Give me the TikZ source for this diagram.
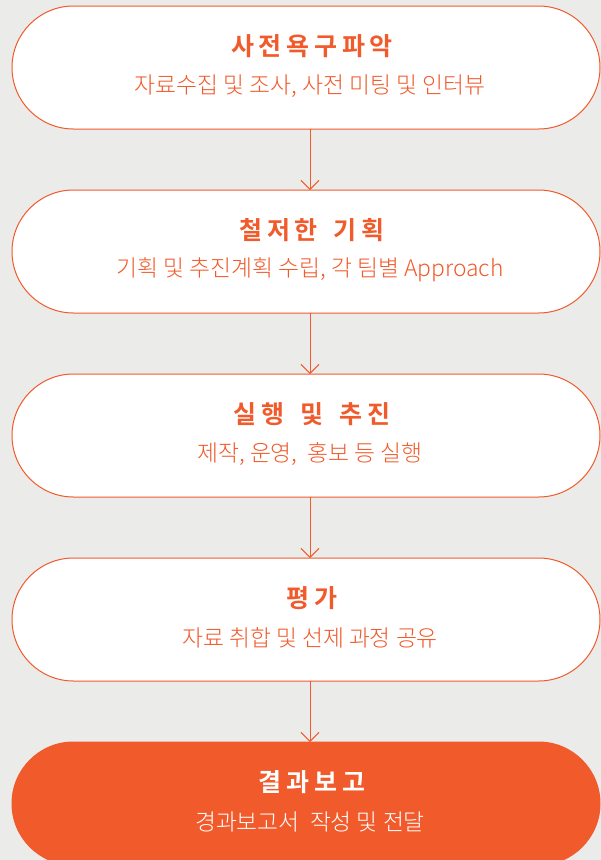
\documentclass[tikz,border=0pt]{standalone}
\usepackage{fontspec}
\setmainfont{Noto Sans CJK KR}[BoldFont={Noto Sans CJK KR Bold}]
\newfontfamily\krlight{Noto Sans CJK KR Light}
\usetikzlibrary{shapes.misc,arrows.meta}
\definecolor{bgray}{HTML}{EBEBE9}
\definecolor{porange}{HTML}{F15A2B}
\newcommand{\tsp}{\hspace{0.65em}}

\begin{document}
\begin{tikzpicture}[x=1pt,y=-1pt,inner sep=0pt,outer sep=0pt,
stepbox/.style={draw=porange,line width=1pt,fill=white,rounded rectangle,minimum width=588pt,minimum height=123pt},
laststep/.style={stepbox,fill=porange},
steptitle/.style={text=porange,font=\bfseries\fontsize{25}{28}\selectfont\addfontfeature{LetterSpace=19}},
stepnote/.style={text=porange,font=\krlight\fontsize{22.8}{26}\selectfont},
flow/.style={draw=porange,line width=0.9pt,-{Straight Barb[length=9pt,width=18pt,line width=0.9pt]}}]

\fill[bgray] (0,0) rectangle (601,860);
\useasboundingbox (0,0) rectangle (601,860);
\clip (0,0) rectangle (601,860);

% steps
\node[stepbox] (s1) at (306,67.5) {};
\node[stepbox] (s2) at (306,251.5) {};
\node[stepbox] (s3) at (306,435.5) {};
\node[stepbox] (s4) at (306,619.5) {};
\node[laststep] (s5) at (306,803.5) {};

\node[steptitle] (t1) at (312,46) {사전욕구파악};
\node[stepnote] (n1) at (310,86) {자료수집 및 조사, 사전 미팅 및 인터뷰};
\node[steptitle] (t2) at (312,230) {철저한\tsp 기획};
\node[stepnote] (n2) at (310,270) {기획 및 추진계획 수립, 각 팀별 Approach};
\node[steptitle] (t3) at (312,414) {실행\tsp 및\tsp 추진};
\node[stepnote] (n3) at (310,454) {제작, 운영,~ 홍보 등 실행};
\node[steptitle] (t4) at (312,598) {평가};
\node[stepnote] (n4) at (310,638) {자료 취합 및 선제 과정 공유};
\node[steptitle,text=white] (t5) at (312,782) {결과보고};
\node[stepnote,text=white] (n5) at (310,822) {경과보고서~ 작성 및 전달};

% arrows
\draw[flow] (s1.south -| n1) -- (s2.north -| n1);
\draw[flow] (s2.south -| n2) -- (s3.north -| n2);
\draw[flow] (s3.south -| n3) -- (s4.north -| n3);
\draw[flow] (s4.south -| n4) -- (s5.north -| n4);
\end{tikzpicture}
\end{document}
